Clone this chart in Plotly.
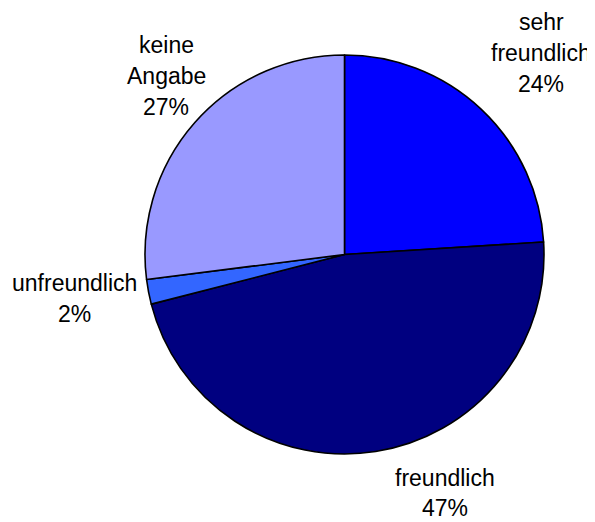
import plotly.graph_objects as go

categories = ["sehr freundlich", "freundlich", "unfreundlich", "keine Angabe"]
values = [24, 47, 2, 27]
label_lines = [["sehr", "freundlich", "24%"], ["freundlich", "47%"], ["unfreundlich", "2%"], ["keine", "Angabe", "27%"]]
colors = ["#0000FF", "#000080", "#3366FF", "#9999FF"]

W, H = 595, 522
OFF = 8  # page body margin
fig = go.Figure(go.Pie(
    labels=categories, values=values, sort=False, direction="clockwise", rotation=0,
    marker=dict(colors=colors, line=dict(color="black", width=1.6)),
    textinfo="none", hoverinfo="label+percent", showlegend=False,
    domain=dict(x=[(145 - OFF) / W, (544 - OFF) / W], y=[1 - (454 - OFF) / H, 1 - (55 - OFF) / H]),
))

# label positions in window pixels: (center x, first line center y, line step)
label_pos = [(541, 22, 31), (445, 478, 30), (74, 283, 31), (166, 45, 31)]
for lines, (px, py, step) in zip(label_lines, label_pos):
    for i, t in enumerate(lines):
        fig.add_annotation(x=(px - OFF) / W, y=1 - (py + i * step - OFF) / H, xref="paper", yref="paper",
                           text=t, showarrow=False, xanchor="center", yanchor="middle",
                           font=dict(family="Liberation Sans", size=23, color="#000000"))

fig.update_layout(width=W, height=H, margin=dict(l=0, r=0, t=0, b=0),
                  paper_bgcolor="white", plot_bgcolor="white")
fig.write_html("out.html")
